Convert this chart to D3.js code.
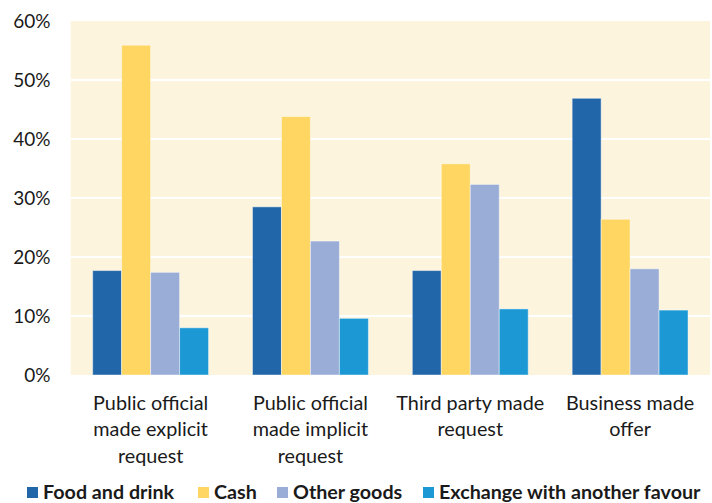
<!DOCTYPE html>
<html>
<head>
<meta charset="utf-8">
<script src="https://cdn.jsdelivr.net/npm/d3@7"></script>
<style>
  html, body { margin: 0; padding: 0; background: #ffffff; }
  svg { display: block; }
  text { font-family: "Lato", "Open Sans", sans-serif; }
</style>
</head>
<body>
<script>
const categories = [
  "Public official\nmade explicit\nrequest",
  "Public official\nmade implicit\nrequest",
  "Third party made\nrequest",
  "Business made\noffer"
];
const seriesNames = ["Food and drink", "Cash", "Other goods", "Exchange with another favour"];
const seriesColors = ["#2166a8", "#ffd662", "#9aadd6", "#1c98d5"];
const foodAndDrink = [0.177, 0.285, 0.177, 0.469];
const cash = [0.559, 0.438, 0.358, 0.264];
const otherGoods = [0.174, 0.227, 0.323, 0.180];
const exchangeFavour = [0.080, 0.096, 0.112, 0.110];
const yTicks = [0, 0.1, 0.2, 0.3, 0.4, 0.5, 0.6];

const seriesValues = [foodAndDrink, cash, otherGoods, exchangeFavour];

const W = 712, H = 503;
const plot = { left: 70.7, right: 710, top: 21, bottom: 375 };

const svg = d3.select("body").append("svg").attr("width", W).attr("height", H);

const x = d3.scaleBand().domain(categories).range([plot.left, plot.right])
  .paddingInner(0.275).paddingOuter(0.1375);
const xs = d3.scaleBand().domain(seriesNames).range([0, x.bandwidth()]).padding(0);
const y = d3.scaleLinear().domain([0, 0.6]).range([plot.bottom, plot.top]);

// background
svg.append("rect")
  .attr("x", plot.left).attr("y", plot.top)
  .attr("width", plot.right - plot.left).attr("height", plot.bottom - plot.top)
  .attr("fill", "#fdf4dd");

// gridlines
svg.append("g").selectAll("line").data(yTicks.filter(d => d > 0 && d < 0.6)).join("line")
  .attr("x1", plot.left).attr("x2", plot.right)
  .attr("y1", d => y(d)).attr("y2", d => y(d))
  .attr("stroke", "#ffffff").attr("stroke-width", 2);

// y axis labels
const yAxis = d3.axisLeft(y).tickValues(yTicks).tickFormat(d3.format(".0%")).tickSize(0).tickPadding(0);
const gy = svg.append("g").attr("transform", "translate(50.5,0)").call(yAxis);
gy.select(".domain").remove();
gy.selectAll("text").attr("font-size", 19).attr("fill", "#1a1a1a")
  .attr("font-family", "Lato, 'Open Sans', sans-serif").attr("dy", "0.34em");

// bars
const groups = svg.append("g").selectAll("g").data(categories).join("g")
  .attr("transform", d => `translate(${x(d)},0)`);
groups.selectAll("rect").data((c, ci) => seriesNames.map((s, si) => ({ s, si, v: seriesValues[si][ci] })))
  .join("rect")
  .attr("x", d => xs(d.s)).attr("width", xs.bandwidth())
  .attr("y", d => y(d.v)).attr("height", d => y(0) - y(d.v))
  .attr("fill", d => seriesColors[d.si])
  .attr("stroke", "rgba(255,255,255,0.45)").attr("stroke-width", 1);

// category labels
const xAxis = d3.axisBottom(x).tickSize(0).tickFormat("");
const gx = svg.append("g").attr("transform", `translate(0,${plot.bottom})`).call(xAxis);
gx.select(".domain").remove();
gx.selectAll(".tick").each(function(d) {
  const t = d3.select(this).append("text")
    .attr("text-anchor", "middle").attr("font-size", 19.8).attr("fill", "#1a1a1a");
  d.split("\n").forEach((line, i) => {
    t.append("tspan").attr("x", 0).attr("y", 34.5 + i * 26.5).text(line);
  });
});

// legend
const legendX = [27, 198, 277, 423];
const lg = svg.append("g").selectAll("g").data(seriesNames).join("g")
  .attr("transform", (d, i) => `translate(${legendX[i]},0)`);
lg.append("rect").attr("x", 0).attr("y", 487).attr("width", 11).attr("height", 11)
  .attr("fill", (d, i) => seriesColors[i]);
lg.append("text").attr("x", 16).attr("y", 498.5).attr("font-size", 19.7).attr("font-weight", "bold")
  .attr("fill", "#1a1a1a").text(d => d);
</script>
</body>
</html>
